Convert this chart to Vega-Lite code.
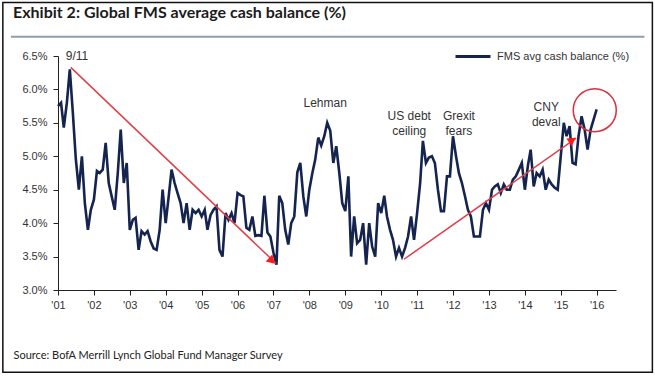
{
  "$schema": "https://vega.github.io/schema/vega-lite/v6.json",
  "width": 558,
  "height": 234,
  "padding": {"left": 2, "top": 1, "right": 2, "bottom": 2},
  "background": "white",
  "title": {
    "text": "Exhibit 2: Global FMS average cash balance (%)",
    "anchor": "start",
    "frame": "group",
    "dx": -45,
    "offset": -32,
    "baseline": "alphabetic",
    "font": "Lato",
    "fontSize": 16,
    "fontWeight": "bold",
    "color": "#1b1b1b"
  },
  "datasets": {
    "cash": [
      {"date": "2001-01", "value": 5.75}, {"date": "2001-02", "value": 5.8}, {"date": "2001-03", "value": 5.43}, {"date": "2001-04", "value": 5.8}, {"date": "2001-05", "value": 6.3}, {"date": "2001-06", "value": 5.65}, {"date": "2001-07", "value": 4.96}, {"date": "2001-08", "value": 4.5}, {"date": "2001-09", "value": 5.0}, {"date": "2001-10", "value": 4.3}, {"date": "2001-11", "value": 3.9}, {"date": "2001-12", "value": 4.2},
      {"date": "2002-01", "value": 4.35}, {"date": "2002-02", "value": 4.78}, {"date": "2002-03", "value": 4.75}, {"date": "2002-04", "value": 4.8}, {"date": "2002-05", "value": 5.2}, {"date": "2002-06", "value": 4.6}, {"date": "2002-07", "value": 4.4}, {"date": "2002-08", "value": 4.2}, {"date": "2002-09", "value": 4.75}, {"date": "2002-10", "value": 5.4}, {"date": "2002-11", "value": 4.6}, {"date": "2002-12", "value": 4.9},
      {"date": "2003-01", "value": 3.9}, {"date": "2003-02", "value": 4.05}, {"date": "2003-03", "value": 4.08}, {"date": "2003-04", "value": 3.6}, {"date": "2003-05", "value": 3.88}, {"date": "2003-06", "value": 3.83}, {"date": "2003-07", "value": 3.88}, {"date": "2003-08", "value": 3.73}, {"date": "2003-09", "value": 3.62}, {"date": "2003-10", "value": 3.6}, {"date": "2003-11", "value": 3.9}, {"date": "2003-12", "value": 4.5},
      {"date": "2004-01", "value": 4.0}, {"date": "2004-02", "value": 4.4}, {"date": "2004-03", "value": 4.8}, {"date": "2004-04", "value": 4.6}, {"date": "2004-05", "value": 4.45}, {"date": "2004-06", "value": 4.3}, {"date": "2004-07", "value": 4.0}, {"date": "2004-08", "value": 4.3}, {"date": "2004-09", "value": 3.9}, {"date": "2004-10", "value": 4.2}, {"date": "2004-11", "value": 4.15}, {"date": "2004-12", "value": 4.2},
      {"date": "2005-01", "value": 4.1}, {"date": "2005-02", "value": 4.2}, {"date": "2005-03", "value": 3.9}, {"date": "2005-04", "value": 4.12}, {"date": "2005-05", "value": 4.2}, {"date": "2005-06", "value": 4.25}, {"date": "2005-07", "value": 3.6}, {"date": "2005-08", "value": 3.5}, {"date": "2005-09", "value": 4.15}, {"date": "2005-10", "value": 4.05}, {"date": "2005-11", "value": 4.15}, {"date": "2005-12", "value": 4.0},
      {"date": "2006-01", "value": 4.45}, {"date": "2006-02", "value": 4.42}, {"date": "2006-03", "value": 4.4}, {"date": "2006-04", "value": 3.93}, {"date": "2006-05", "value": 3.9}, {"date": "2006-06", "value": 4.1}, {"date": "2006-07", "value": 3.81}, {"date": "2006-08", "value": 3.82}, {"date": "2006-09", "value": 3.81}, {"date": "2006-10", "value": 4.41}, {"date": "2006-11", "value": 3.86}, {"date": "2006-12", "value": 3.8},
      {"date": "2007-01", "value": 3.56}, {"date": "2007-02", "value": 3.38}, {"date": "2007-03", "value": 4.41}, {"date": "2007-04", "value": 4.3}, {"date": "2007-05", "value": 3.9}, {"date": "2007-06", "value": 3.68}, {"date": "2007-07", "value": 4.0}, {"date": "2007-08", "value": 4.1}, {"date": "2007-09", "value": 4.76}, {"date": "2007-10", "value": 4.9}, {"date": "2007-11", "value": 4.4}, {"date": "2007-12", "value": 4.1},
      {"date": "2008-01", "value": 4.5}, {"date": "2008-02", "value": 4.75}, {"date": "2008-03", "value": 4.95}, {"date": "2008-04", "value": 5.28}, {"date": "2008-05", "value": 5.16}, {"date": "2008-06", "value": 5.3}, {"date": "2008-07", "value": 5.5}, {"date": "2008-08", "value": 5.38}, {"date": "2008-09", "value": 4.9}, {"date": "2008-10", "value": 5.15}, {"date": "2008-11", "value": 4.75}, {"date": "2008-12", "value": 4.3},
      {"date": "2009-01", "value": 4.18}, {"date": "2009-02", "value": 4.7}, {"date": "2009-03", "value": 3.5}, {"date": "2009-04", "value": 4.1}, {"date": "2009-05", "value": 3.7}, {"date": "2009-06", "value": 3.75}, {"date": "2009-07", "value": 4.0}, {"date": "2009-08", "value": 3.38}, {"date": "2009-09", "value": 4.0}, {"date": "2009-10", "value": 3.65}, {"date": "2009-11", "value": 3.5}, {"date": "2009-12", "value": 4.3},
      {"date": "2010-01", "value": 4.15}, {"date": "2010-02", "value": 4.41}, {"date": "2010-03", "value": 4.1}, {"date": "2010-04", "value": 3.9}, {"date": "2010-05", "value": 3.75}, {"date": "2010-06", "value": 3.5}, {"date": "2010-07", "value": 3.63}, {"date": "2010-08", "value": 3.5}, {"date": "2010-09", "value": 3.63}, {"date": "2010-10", "value": 3.8}, {"date": "2010-11", "value": 4.1}, {"date": "2010-12", "value": 3.75},
      {"date": "2011-01", "value": 4.15}, {"date": "2011-02", "value": 4.6}, {"date": "2011-03", "value": 5.23}, {"date": "2011-04", "value": 4.9}, {"date": "2011-05", "value": 4.98}, {"date": "2011-06", "value": 5.0}, {"date": "2011-07", "value": 4.9}, {"date": "2011-08", "value": 4.5}, {"date": "2011-09", "value": 4.18}, {"date": "2011-10", "value": 4.18}, {"date": "2011-11", "value": 4.7}, {"date": "2011-12", "value": 4.7},
      {"date": "2012-01", "value": 5.3}, {"date": "2012-02", "value": 5.0}, {"date": "2012-03", "value": 4.75}, {"date": "2012-04", "value": 4.6}, {"date": "2012-05", "value": 4.41}, {"date": "2012-06", "value": 4.2}, {"date": "2012-07", "value": 4.1}, {"date": "2012-08", "value": 3.8}, {"date": "2012-09", "value": 3.8}, {"date": "2012-10", "value": 3.8}, {"date": "2012-11", "value": 4.2}, {"date": "2012-12", "value": 4.3},
      {"date": "2013-01", "value": 4.2}, {"date": "2013-02", "value": 4.5}, {"date": "2013-03", "value": 4.55}, {"date": "2013-04", "value": 4.58}, {"date": "2013-05", "value": 4.45}, {"date": "2013-06", "value": 4.58}, {"date": "2013-07", "value": 4.5}, {"date": "2013-08", "value": 4.5}, {"date": "2013-09", "value": 4.65}, {"date": "2013-10", "value": 4.7}, {"date": "2013-11", "value": 4.8}, {"date": "2013-12", "value": 4.9},
      {"date": "2014-01", "value": 4.5}, {"date": "2014-02", "value": 4.86}, {"date": "2014-03", "value": 5.1}, {"date": "2014-04", "value": 4.55}, {"date": "2014-05", "value": 4.75}, {"date": "2014-06", "value": 4.7}, {"date": "2014-07", "value": 4.8}, {"date": "2014-08", "value": 4.5}, {"date": "2014-09", "value": 4.65}, {"date": "2014-10", "value": 4.58}, {"date": "2014-11", "value": 4.53}, {"date": "2014-12", "value": 4.5},
      {"date": "2015-01", "value": 5.0}, {"date": "2015-02", "value": 5.5}, {"date": "2015-03", "value": 5.3}, {"date": "2015-04", "value": 5.45}, {"date": "2015-05", "value": 4.9}, {"date": "2015-06", "value": 4.88}, {"date": "2015-07", "value": 5.3}, {"date": "2015-08", "value": 5.6}, {"date": "2015-09", "value": 5.4}, {"date": "2015-10", "value": 5.1}, {"date": "2015-11", "value": 5.4}, {"date": "2015-12", "value": 5.55},
      {"date": "2016-01", "value": 5.7}
    ],
    "arrows": [
      {"id": "a", "date": "2001-05-11", "value": 6.33},
      {"id": "a", "date": "2007-01-25", "value": 3.4},
      {"id": "b", "date": "2010-08-21", "value": 3.46},
      {"id": "b", "date": "2015-06-07", "value": 5.27}
    ],
    "headA": [{"date": "2006-12-07", "value": 3.45}],
    "headB": [{"date": "2015-04-18", "value": 5.23}],
    "circle": [{"date": "2015-12-13", "value": 5.69}],
    "labels": [
      {"label": "9/11", "date": "2001-07-13", "value": 6.5},
      {"label": "Lehman", "date": "2008-06-10", "value": 5.8},
      {"label": "US debt\nceiling", "date": "2010-10-13", "value": 5.61},
      {"label": "Grexit\nfears", "date": "2012-03-01", "value": 5.61},
      {"label": "CNY\ndeval", "date": "2014-08-07", "value": 5.73}
    ],
    "frame": [{"date": "1999-06-20", "date2": "2017-07-21", "value": 1.77, "value2": 7.3}],
    "underline": [{"date": "1999-09-10", "date2": "2017-05-01", "value": 6.787}]
  },
  "encoding": {
    "x": {
      "field": "date",
      "type": "temporal",
      "scale": {"type": "utc", "domain": [{"year": 2001, "month": 1, "date": 1, "utc": true}, {"year": 2016, "month": 7, "date": 16, "utc": true}]},
      "axis": {
        "title": "Source: BofA Merrill Lynch Global Fund Manager Survey",
        "titleX": -45,
        "titleY": 68,
        "titleAlign": "left",
        "titleBaseline": "alphabetic",
        "titleFont": "Lato",
        "titleFontSize": 11,
        "titleFontWeight": "normal",
        "titleColor": "#222222",
        "format": "'%y",
        "tickCount": {"interval": "year", "step": 1},
        "labelFont": "Liberation Sans",
        "labelFontSize": 11,
        "labelColor": "#333333",
        "labelPadding": 4,
        "labelFlush": false,
        "labelOverlap": false,
        "tickSize": 5,
        "tickColor": "#222222",
        "domainColor": "#222222",
        "grid": false
      }
    },
    "y": {
      "field": "value",
      "type": "quantitative",
      "scale": {"domain": [3, 6.5], "nice": false, "zero": false},
      "axis": {
        "title": null,
        "values": [3, 3.5, 4, 4.5, 5, 5.5, 6, 6.5],
        "labelExpr": "format(datum.value, '.1f') + '%'",
        "labelFont": "Liberation Sans",
        "labelFontSize": 11,
        "labelColor": "#333333",
        "labelPadding": 6,
        "tickSize": 5,
        "tickColor": "#222222",
        "domainColor": "#222222",
        "grid": false
      }
    }
  },
  "layer": [
    {
      "data": {"name": "frame"},
      "mark": {"type": "rect", "fill": "transparent", "stroke": "#111111", "strokeWidth": 1.5},
      "encoding": {"x2": {"field": "date2"}, "y2": {"field": "value2"}}
    },
    {
      "data": {"name": "underline"},
      "mark": {"type": "rule", "stroke": "#8e9db5", "strokeWidth": 2},
      "encoding": {"x2": {"field": "date2"}}
    },
    {
      "data": {"name": "cash"},
      "mark": {"type": "line", "strokeWidth": 2.6, "interpolate": "linear"},
      "encoding": {
        "color": {
          "datum": "FMS avg cash balance (%)",
          "type": "nominal",
          "scale": {"range": ["#14244f"]},
          "legend": {
            "orient": "none",
            "legendX": 396,
            "legendY": -18.5,
            "title": null,
            "padding": 0,
            "symbolType": "stroke",
            "symbolSize": 1225,
            "symbolStrokeWidth": 3,
            "labelFont": "Liberation Sans",
            "labelFontSize": 11,
            "labelColor": "#333333",
            "labelOffset": 5
          }
        }
      }
    },
    {
      "data": {"name": "arrows"},
      "mark": {"type": "line", "color": "#e0404a", "strokeWidth": 1.5},
      "encoding": {"detail": {"field": "id"}}
    },
    {
      "data": {"name": "headA"},
      "mark": {"type": "point", "shape": "triangle", "filled": true, "color": "#ff1a1a", "opacity": 1, "size": 90, "angle": 134},
      "encoding": {}
    },
    {
      "data": {"name": "headB"},
      "mark": {"type": "point", "shape": "triangle", "filled": true, "color": "#ff1a1a", "opacity": 1, "size": 90, "angle": 55},
      "encoding": {}
    },
    {
      "data": {"name": "circle"},
      "mark": {"type": "point", "shape": "circle", "filled": false, "color": "#d8303c", "strokeWidth": 1.5, "opacity": 1, "size": 1850},
      "encoding": {}
    },
    {
      "data": {"name": "labels"},
      "mark": {"type": "text", "font": "Liberation Sans", "fontSize": 12, "color": "#333333", "align": "center", "baseline": "middle", "lineBreak": "\n", "lineHeight": 15},
      "encoding": {"text": {"field": "label"}}
    }
  ],
  "config": {"view": {"stroke": null}}
}
